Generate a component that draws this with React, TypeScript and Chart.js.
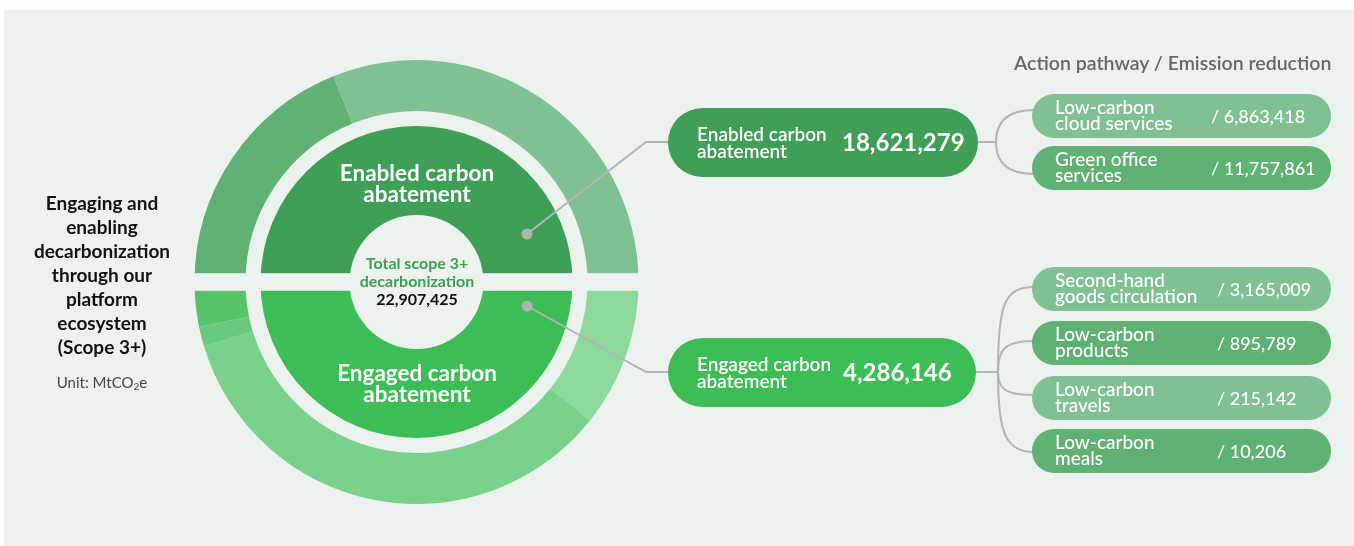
import React, { useEffect, useRef } from 'react';
import { Chart, registerables } from 'chart.js';

Chart.register(...registerables);

const BG = '#ecf2ee';
const FONT = "Lato, 'Noto Sans', sans-serif";

const groupLabels = ['Enabled carbon\nabatement', 'Engaged carbon\nabatement'];
const groupValues = [18621279, 4286146];
const innerRingShares = [50, 50];
const innerRingColors = ['#3f9f56', '#3cbd55'];

const totalLabel = 'Total scope 3+\ndecarbonization';
const totalValue = 22907425;

// Outer ring segments, clockwise from 9 o'clock (angular shares, degrees)
const outerRingLabels = ['Segment 1', 'Segment 2', 'Segment 3', 'Segment 4', 'Segment 5', 'Segment 6'];
const outerRingShares = [68, 112, 38.5, 124.7, 5.1, 11.7];
const outerRingColors = ['#5fb174', '#80c193', '#8dd89b', '#79d18b', '#68cb7b', '#56c36b'];

// Action pathways
const enabledPathways = ['Low-carbon\ncloud services', 'Green office\nservices'];
const enabledValues = [6863418, 11757861];
const enabledColors = ['#80c193', '#5fb174'];

const engagedPathways = ['Second-hand\ngoods circulation', 'Low-carbon\nproducts', 'Low-carbon\ntravels', 'Low-carbon\nmeals'];
const engagedValues = [3165009, 895789, 215142, 10206];
const engagedColors = ['#80c193', '#5fb174', '#80c193', '#5fb174'];

const titleText = 'Action pathway / Emission reduction';
const sideTitle = 'Engaging and\nenabling\ndecarbonization\nthrough our\nplatform\necosystem\n(Scope 3+)';

const fmt = (v: number) => v.toLocaleString('en-US');

function Lines({ text }: { text: string }) {
  return (
    <>
      {text.split('\n').map((t, i) => (
        <div key={i}>{t}</div>
      ))}
    </>
  );
}

function PathBox({ top, label, value, color, valueLeft }: { top: number; label: string; value: number; color: string; valueLeft: number }) {
  return (
    <div
      style={{
        position: 'absolute',
        left: 1032,
        top,
        width: 299,
        height: 44,
        borderRadius: 22,
        background: color,
        color: '#fff',
        fontFamily: FONT,
        fontWeight: 500,
      }}
    >
      <div style={{ position: 'absolute', left: 23, top: 5, fontSize: 19, lineHeight: '16px', whiteSpace: 'nowrap' }}>
        <Lines text={label} />
      </div>
      <div style={{ position: 'absolute', left: valueLeft, top: 11, fontSize: 18, lineHeight: '22px', whiteSpace: 'nowrap' }}>
        {'/ ' + fmt(value)}
      </div>
    </div>
  );
}

function GroupBox({ top, width, label, value, color, numLeft }: { top: number; width: number; label: string; value: number; color: string; numLeft: number }) {
  return (
    <div
      style={{
        position: 'absolute',
        left: 668,
        top,
        width,
        height: 69,
        borderRadius: 35,
        background: color,
        color: '#fff',
        fontFamily: FONT,
      }}
    >
      <div style={{ position: 'absolute', left: 29, top: 17, fontSize: 19, lineHeight: '17px', fontWeight: 600, whiteSpace: 'nowrap' }}>
        <Lines text={label} />
      </div>
      <div style={{ position: 'absolute', left: numLeft, top: 19, fontSize: 24, lineHeight: '30px', fontWeight: 700, whiteSpace: 'nowrap' }}>
        {fmt(value)}
      </div>
    </div>
  );
}

export default function App() {
  const ref = useRef<HTMLCanvasElement>(null);

  useEffect(() => {
    document.body.style.margin = '0';
    const stripPlugin = {
      id: 'halfStrip',
      afterDatasetsDraw(chart: any) {
        const arc = chart.getDatasetMeta(0).data[0];
        if (!arc) return;
        const { x, y, outerRadius } = arc.getProps(['x', 'y', 'outerRadius'], true);
        const ctx = chart.ctx;
        ctx.save();
        ctx.fillStyle = BG;
        ctx.fillRect(x - outerRadius - 3, y - 8.8, outerRadius * 2 + 6, 17.6);
        ctx.restore();
      },
    };
    const chart = new Chart(ref.current!, {
      type: 'doughnut',
      data: {
        labels: outerRingLabels,
        datasets: [
          { data: outerRingShares, backgroundColor: outerRingColors, borderWidth: 0, weight: 51 } as any,
          { data: [1], backgroundColor: 'rgba(0,0,0,0)', borderWidth: 0, weight: 15 } as any,
          { data: innerRingShares, backgroundColor: innerRingColors, borderWidth: 0, weight: 89 } as any,
        ],
      },
      options: {
        responsive: false,
        animation: false,
        rotation: -90,
        cutout: 67,
        events: [],
        layout: { padding: { left: 194.5, right: 715.5, top: 60, bottom: 42 } },
        plugins: { legend: { display: false }, tooltip: { enabled: false } },
      } as any,
      plugins: [stripPlugin],
    });
    return () => chart.destroy();
  }, []);

  const enabledTops = [94, 146];
  const engagedTops = [267, 321, 376, 429];

  return (
    <div style={{ position: 'fixed', left: 0, top: 0, width: 1354, height: 546, background: '#fff', overflow: 'hidden' }}>
      <div style={{ position: 'absolute', left: 4, top: 10, width: 1350, height: 536, background: BG }} />
      <canvas ref={ref} width={1354} height={546} style={{ position: 'absolute', left: 0, top: 0, width: 1354, height: 546 }} />

      {/* side title */}
      <div
        style={{
          position: 'absolute',
          left: 2,
          width: 200,
          top: 191,
          textAlign: 'center',
          fontFamily: FONT,
          fontWeight: 700,
          fontSize: 19,
          lineHeight: '24px',
          color: '#111',
        }}
      >
        <Lines text={sideTitle} />
      </div>
      <div style={{ position: 'absolute', left: 2, width: 200, top: 373, textAlign: 'center', fontFamily: FONT, fontSize: 15, color: '#444' }}>
        Unit: MtCO<sub style={{ fontSize: 10, verticalAlign: 'baseline', position: 'relative', top: 2 }}>2</sub>e
      </div>

      {/* donut labels */}
      {groupLabels.map((g, i) => (
        <div
          key={g}
          style={{
            position: 'absolute',
            left: 307,
            width: 220,
            top: i === 0 ? 162 : 362,
            textAlign: 'center',
            color: '#fff',
            fontFamily: FONT,
            fontWeight: 700,
            fontSize: 22.5,
            lineHeight: '21px',
          }}
        >
          <Lines text={g} />
        </div>
      ))}
      <div
        style={{
          position: 'absolute',
          left: 327,
          width: 180,
          top: 254,
          textAlign: 'center',
          fontFamily: FONT,
          fontWeight: 700,
          fontSize: 16,
          lineHeight: '18px',
          color: '#3fa055',
        }}
      >
        <Lines text={totalLabel} />
        <div style={{ color: '#111' }}>{fmt(totalValue)}</div>
      </div>

      {/* connectors */}
      <svg width={1354} height={546} style={{ position: 'absolute', left: 0, top: 0 }}>
        <g fill="none" stroke="#b4b4b4" strokeWidth={2}>
          <polyline points="527,234 646,142 670,142" />
          <polyline points="527,306 646,372 670,372" />
          <path d="M976,142 H996 M1034,110 Q996,110 996,142 Q996,174 1034,174" />
          <path d="M974,372 H998" />
          <path d="M998,372 C998,305 1004,287 1034,287" />
          <path d="M998,372 C998,350 1004,341 1034,341" />
          <path d="M998,372 C998,388 1004,395 1034,395" />
          <path d="M998,372 C998,430 1004,452 1034,452" />
        </g>
        <circle cx={527} cy={234} r={5.5} fill="#b3b3b3" />
        <circle cx={527} cy={306} r={5.5} fill="#b3b3b3" />
      </svg>

      {/* title */}
      <div style={{ position: 'absolute', left: 1014, top: 51, fontFamily: FONT, fontWeight: 600, fontSize: 19.5, color: '#666', whiteSpace: 'nowrap' }}>
        {titleText}
      </div>

      <GroupBox top={108} width={310} label={groupLabels[0]} value={groupValues[0]} color={innerRingColors[0]} numLeft={174} />
      <GroupBox top={338} width={308} label={groupLabels[1]} value={groupValues[1]} color={innerRingColors[1]} numLeft={175} />

      {enabledPathways.map((p, i) => (
        <PathBox key={p} top={enabledTops[i]} label={p} value={enabledValues[i]} color={enabledColors[i]} valueLeft={179} />
      ))}
      {engagedPathways.map((p, i) => (
        <PathBox key={p} top={engagedTops[i]} label={p} value={engagedValues[i]} color={engagedColors[i]} valueLeft={185} />
      ))}
    </div>
  );
}
